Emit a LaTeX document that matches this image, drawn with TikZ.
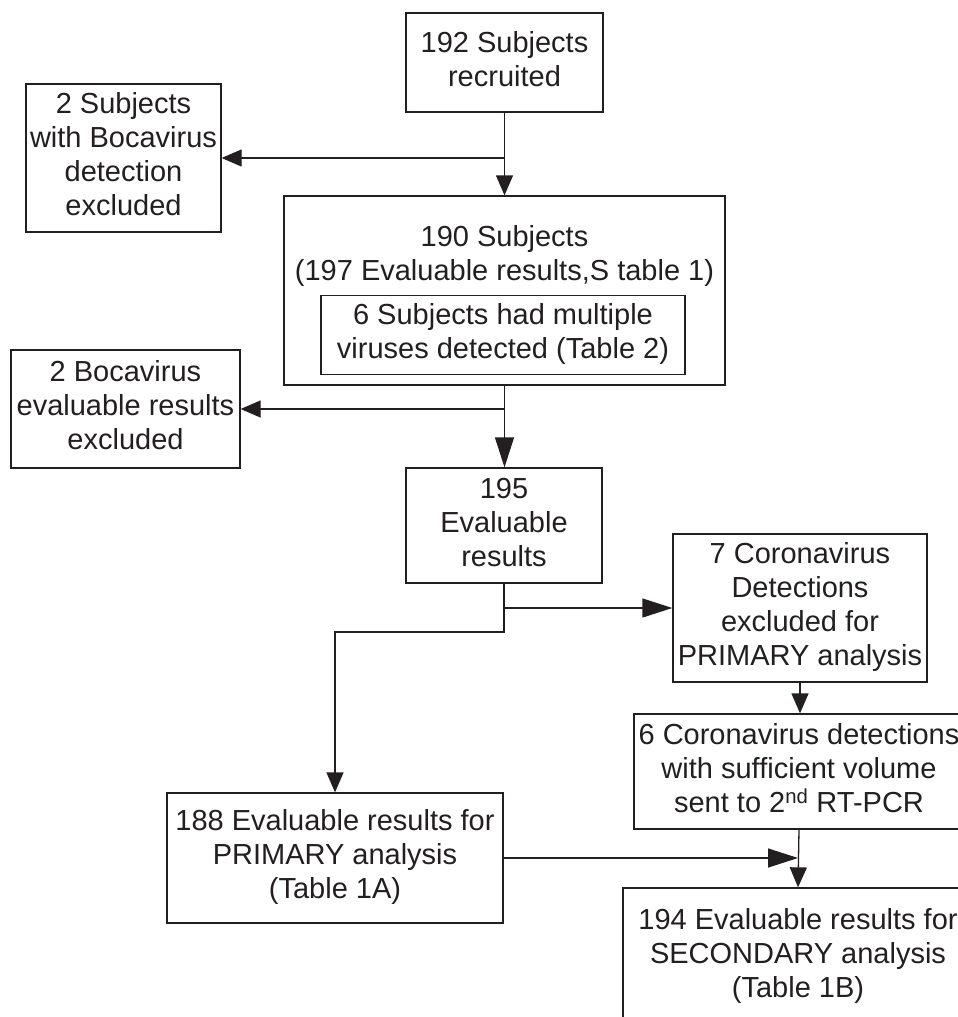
\documentclass[tikz,border=0pt]{standalone}
\usepackage{fontspec}
\setmainfont{Liberation Sans}
\usetikzlibrary{arrows.meta}
\definecolor{ink}{HTML}{231F20}
\tikzset{
  box/.style={draw=ink, line width=1.3pt, inner sep=0pt, align=center,
    font=\fontsize{29}{34}\selectfont, text=ink},
  txt/.style={inner sep=0pt, align=center, font=\fontsize{29}{34}\selectfont, text=ink},
  conn/.style={draw=ink, line width=1.3pt},
  arrS/.style={conn, -{Triangle[length=20pt,width=17pt]}},
  arrL/.style={conn, -{Triangle[length=30pt,width=19pt]}}
}
\begin{document}
\begin{tikzpicture}[x=1pt,y=-1pt]
\useasboundingbox (0,0) rectangle (958,1017);
\clip (0,0) rectangle (958,1017);
\fill[white] (0,0) rectangle (958,1017);

% boxes
\node[box, minimum width=197pt, minimum height=99pt] (recruit) at (504.5,62.5)
  {\strut 192 Subjects\\recruited\strut};
\node[box, minimum width=195pt, minimum height=148pt] (bocaA) at (123.5,158)
  {\strut 2 Subjects\\with Bocavirus\\detection\\excluded\strut};
\node[box, minimum width=441pt, minimum height=189pt] (subj) at (504.5,290.5) {};
\node[txt] (subjt) at (504.5,257)
  {\strut 190 Subjects\\(197 Evaluable results,S table 1)\strut};
\node[box, minimum width=364pt, minimum height=79pt] (multi) at (503,335)
  {\strut 6 Subjects had multiple\\viruses detected (Table 2)\strut};
\node[box, minimum width=229pt, minimum height=118pt] (bocaB) at (125.5,409)
  {\strut 2 Bocavirus\\evaluable results\\excluded\strut};
\node[box, minimum width=196pt, minimum height=115pt] (eval) at (504,525.5)
  {\strut 195\\Evaluable\\results\strut};
\node[box, minimum width=254pt, minimum height=148pt] (corA) at (800,608)
  {\strut 7 Coronavirus\\Detections\\excluded for\\PRIMARY analysis\strut};
\node[box, minimum width=330pt, minimum height=115pt] (corB) at (799,771.5)
  {\strut 6 Coronavirus detections\\with sufficient volume\\sent to 2\textsuperscript{nd} RT-PCR\strut};
\node[box, minimum width=336pt, minimum height=130pt] (prim) at (335,858)
  {\strut 188 Evaluable results for\\PRIMARY analysis\\(Table 1A)\strut};
\node[box, minimum width=350pt, minimum height=138pt] (sec) at (798,957)
  {\strut 194 Evaluable results for\\SECONDARY analysis\\(Table 1B)\strut};

% junction points
\coordinate (j1) at (recruit.south |- bocaA.east);
\coordinate (j2) at (subj.south |- bocaB.east);
\coordinate (j3) at (504,632);
\coordinate (j4) at (eval.south |- corA.west);
\coordinate (j5) at (prim.east -| sec.north);

% connectors
\draw[arrS] (recruit.south) -- (subj.north);
\draw[arrS] (j1) -- (bocaA.east);
\draw[arrL] (subj.south) -- (subj.south |- eval.north);
\draw[arrS] (j2) -- (bocaB.east);
\draw[arrS] (eval.south) -- (j3) -| (prim.north);
\draw[arrL] (j4) -- (corA.west);
\draw[arrS] (corA.south) -- (corA.south |- corB.north);
\draw[arrS] (corB.south) -- (sec.north);
\draw[arrL] (prim.east) -- (j5);
\end{tikzpicture}
\end{document}
